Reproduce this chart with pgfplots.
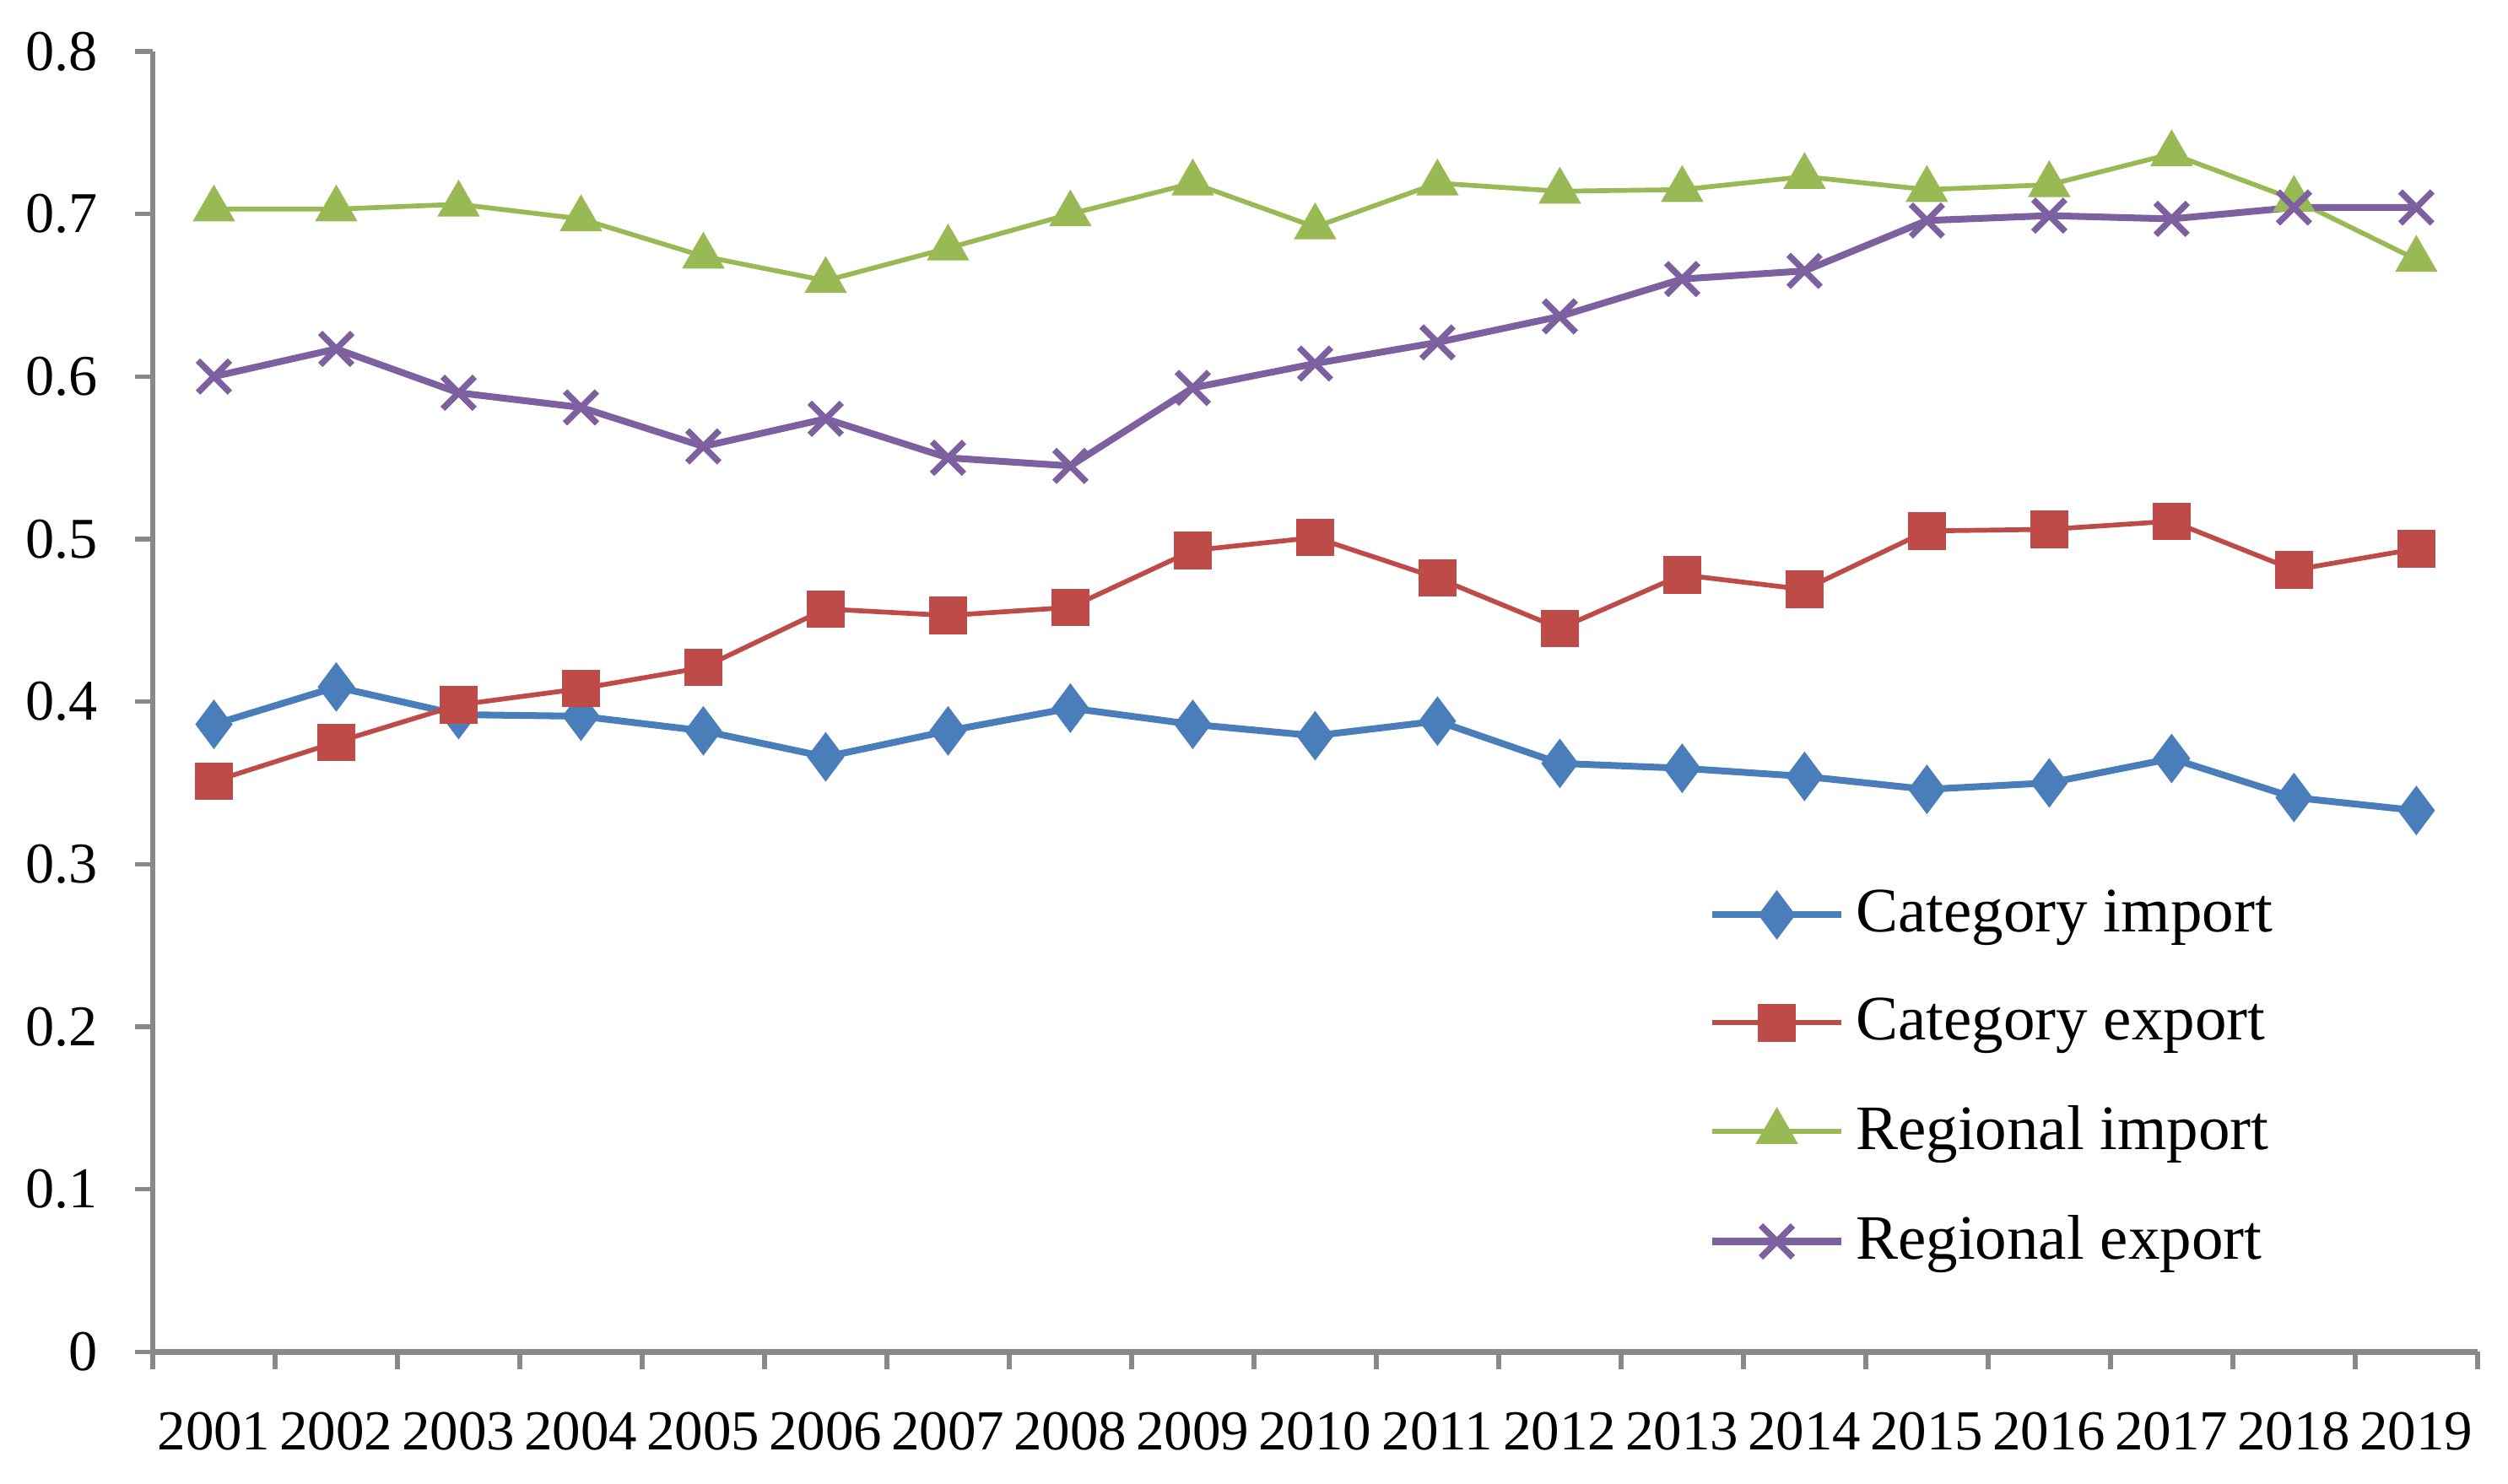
\documentclass[border=0pt]{standalone}
\usepackage{pgfplots}
\pgfplotsset{compat=1.18}
\usepackage{fontspec}
\setmainfont{Liberation Serif}
\definecolor{cimp}{HTML}{4A7EBB}
\definecolor{cexp}{HTML}{BE4B48}
\definecolor{rimp}{HTML}{98B954}
\definecolor{rexp}{HTML}{7D60A0}
\definecolor{axgray}{HTML}{898989}
\begin{document}
\begin{tikzpicture}
\useasboundingbox (-0.95cm,-0.82cm) rectangle (14.65cm,8.41cm);
\begin{axis}[
  scale only axis,
  width=14.46cm, height=8.09cm,
  xmin=-0.5, xmax=18.5, ymin=0, ymax=0.8,
  clip=false,
  axis x line=bottom, axis y line=left,
  axis line style={-, draw=axgray, line width=1pt},
  tick align=outside,
  major tick length=0.11cm,
  xtick={-0.5,0.5,...,18.5},
  x tick label as interval,
  xticklabels={2001,2002,2003,2004,2005,2006,2007,2008,2009,2010,2011,2012,2013,2014,2015,2016,2017,2018,2019},
  xtick style={draw=axgray, line width=0.8pt},
  ytick={0,0.1,0.2,0.3,0.4,0.5,0.6,0.7,0.8},
  ytick style={draw=axgray, line width=0.8pt},
  /pgf/number format/assume math mode=true,
  /pgf/number format/fixed,
  yticklabel style={font=\fontsize{10.2}{12}\selectfont, xshift=-0.11cm},
  xticklabel style={font=\fontsize{10}{12}\selectfont, yshift=-0.14cm},
  legend style={at={(rel axis cs:0.669,0.21)}, anchor=west, draw=none, fill=none,
    inner sep=0pt, row sep=0.217cm, font=\fontsize{11.2}{13}\selectfont},
  legend cell align=left,
  legend image code/.code={\draw[mark repeat=2,mark phase=2,#1] plot coordinates {(0cm,0cm) (0.4cm,0cm) (0.8cm,0cm)};},
]
\addplot[color=cimp, line width=1.2pt, mark=diamond*, mark size=3.4pt, mark options={solid, fill=cimp}] coordinates {
(0,0.386) (1,0.409) (2,0.392) (3,0.391) (4,0.382) (5,0.366) (6,0.382) (7,0.396) (8,0.386) (9,0.379)
(10,0.388) (11,0.362) (12,0.359) (13,0.354) (14,0.346) (15,0.350) (16,0.365) (17,0.341) (18,0.333)};
\addlegendentry{Category import}
\addplot[color=cexp, line width=0.85pt, mark=square*, mark size=2.9pt, mark options={solid, fill=cexp}] coordinates {
(0,0.351) (1,0.375) (2,0.398) (3,0.408) (4,0.421) (5,0.457) (6,0.453) (7,0.458) (8,0.493) (9,0.501)
(10,0.476) (11,0.445) (12,0.478) (13,0.469) (14,0.505) (15,0.506) (16,0.511) (17,0.481) (18,0.494)};
\addlegendentry{Category export}
\addplot[color=rimp, line width=0.85pt, mark=triangle*, mark size=3.5pt, mark options={solid, fill=rimp}] coordinates {
(0,0.703) (1,0.703) (2,0.706) (3,0.697) (4,0.674) (5,0.659) (6,0.679) (7,0.700) (8,0.719) (9,0.692)
(10,0.719) (11,0.714) (12,0.715) (13,0.723) (14,0.715) (15,0.718) (16,0.737) (17,0.709) (18,0.672)};
\addlegendentry{Regional import}
\addplot[color=rexp, line width=1.2pt, mark=x, mark size=4pt, mark options={solid, line width=1.1pt}] coordinates {
(0,0.600) (1,0.617) (2,0.590) (3,0.581) (4,0.557) (5,0.574) (6,0.550) (7,0.545) (8,0.593) (9,0.608)
(10,0.621) (11,0.637) (12,0.660) (13,0.665) (14,0.696) (15,0.699) (16,0.697) (17,0.704) (18,0.704)};
\addlegendentry{Regional export}
\end{axis}
\end{tikzpicture}
\end{document}
